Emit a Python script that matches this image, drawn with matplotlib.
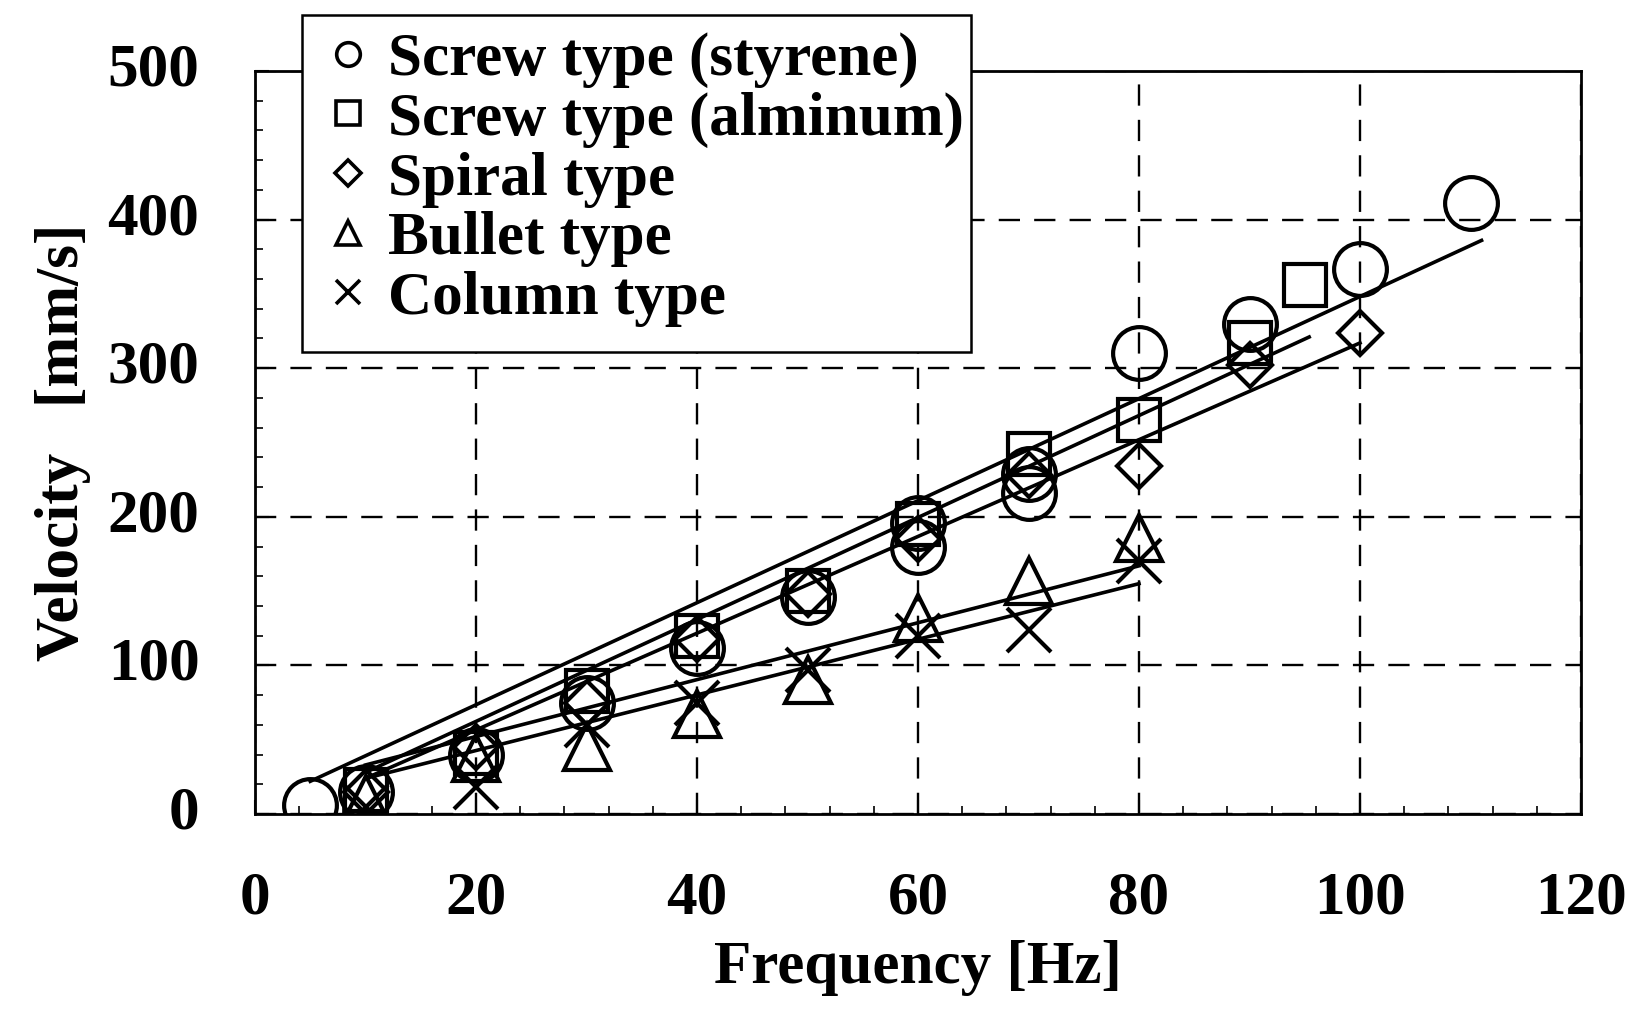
import numpy as np
import matplotlib
matplotlib.use("Agg")
import matplotlib.pyplot as plt
import matplotlib.transforms as mtransforms
from matplotlib.patches import Rectangle
from matplotlib.ticker import MultipleLocator

plt.rcParams['font.family'] = ['Liberation Serif', 'DejaVu Serif']
plt.rcParams['font.weight'] = 'bold'

# ---- data ----
styrene_x = [5, 10, 20, 30, 40, 50, 60, 60, 70, 70, 80, 90, 100, 110]
styrene_y = [6, 15, 40, 75, 112, 146, 196, 180, 229, 216, 310, 330, 367, 411]

alminum_x = [10, 20, 30, 40, 50, 60, 70, 80, 90, 95]
alminum_y = [16, 41, 83, 120, 150, 195, 242, 265, 317, 356]

spiral_x = [10, 20, 30, 40, 50, 60, 70, 80, 90, 100]
spiral_y = [15, 45, 75, 118, 148, 185, 228, 234, 302, 324]

bullet_x = [10, 20, 30, 40, 50, 60, 70, 80]
bullet_y = [10, 38, 45, 67, 90, 132, 157, 186]

column_x = [10, 20, 30, 40, 50, 60, 70, 80]
column_y = [5, 18, 60, 75, 97, 120, 124, 170]

# fitted straight lines: (x_start, x_end) and (y_start, y_end) per series
fit_x = [(5, 111), (10, 95.4), (10, 100), (10, 80), (10, 80)]
fit_y = [(22, 386), (28, 321), (24, 317), (33, 167), (24, 155)]

labels = ['Screw type (styrene)', 'Screw type (alminum)', 'Spiral type',
          'Bullet type', 'Column type']
xticks = [0, 20, 40, 60, 80, 100, 120]
yticks = [0, 100, 200, 300, 400, 500]

series = [
    (styrene_x, styrene_y, 'o', 38),
    (alminum_x, alminum_y, 's', 30),
    (spiral_x, spiral_y, 'D', 22),
    (bullet_x, bullet_y, '^', 33),
    (column_x, column_y, 'x', 32),
]

FS = 44
fig = plt.figure(figsize=(16.31, 10.10), dpi=100)
ax = fig.add_axes([255 / 1631, 1 - 814 / 1010, 1326 / 1631, 743 / 1010])

handles = []
for (xs, ys, m, ms), fx, fy, lab in zip(series, fit_x, fit_y, labels):
    ax.plot(fx, fy, color='black', lw=2.6, zorder=3)
    ax.plot(xs, ys, linestyle='none', marker=m, markersize=ms,
            markerfacecolor='none', markeredgecolor='black',
            markeredgewidth=3.0, zorder=4)
    h, = ax.plot([], [], linestyle='none', marker=m,
                 markersize=13 if m == 'D' else 17,
                 markerfacecolor='none', markeredgecolor='black',
                 markeredgewidth=2.6)
    handles.append(h)

ax.set_xlim(0, 120)
ax.set_ylim(0, 500)
ax.set_xticks(xticks)
ax.set_yticks(yticks)
ax.xaxis.set_minor_locator(MultipleLocator(4))
ax.yaxis.set_minor_locator(MultipleLocator(20))
ax.tick_params(which='both', direction='in', top=False, right=False)
ax.tick_params(which='major', length=10, width=1.5, labelsize=FS)
ax.tick_params(which='minor', length=6, width=1.2)
ax.tick_params(axis='x', which='major', pad=41)
ax.tick_params(axis='y', which='major', pad=40)
for s in ax.spines.values():
    s.set_linewidth(2)
ax.grid(True, which='major', color='black', linestyle=(0, (9, 6)), lw=1.7)
ax.set_axisbelow(True)

# nudge y tick labels slightly upward, as in the reference
shift = mtransforms.ScaledTranslation(0, 0.07, fig.dpi_scale_trans)
for lbl in ax.get_yticklabels():
    lbl.set_transform(lbl.get_transform() + shift)

ax.set_xlabel('Frequency [Hz]', fontsize=FS, fontweight='bold')
ax.xaxis.set_label_coords(0.5, -0.17)
ax.set_ylabel('Velocity   [mm/s]', fontsize=FS, fontweight='bold')
ax.yaxis.set_label_coords(-0.124, 0.5)

# legend box (drawn in figure coordinates, partly above the axes)
frame = Rectangle((302 / 1631, 1 - 352 / 1010), (971 - 302) / 1631, (352 - 15) / 1010,
                  transform=fig.transFigure, facecolor='white', edgecolor='black',
                  lw=1.8, zorder=10)
fig.patches.append(frame)
leg = fig.legend(handles, labels, loc='upper left',
                 bbox_to_anchor=(320 / 1631, 1 - 32 / 1010), frameon=False,
                 fontsize=FS, handlelength=0.92, handletextpad=0.2,
                 labelspacing=0.06, borderpad=0, borderaxespad=0)
leg.set_zorder(11)

fig.savefig('out.png', dpi=100)
